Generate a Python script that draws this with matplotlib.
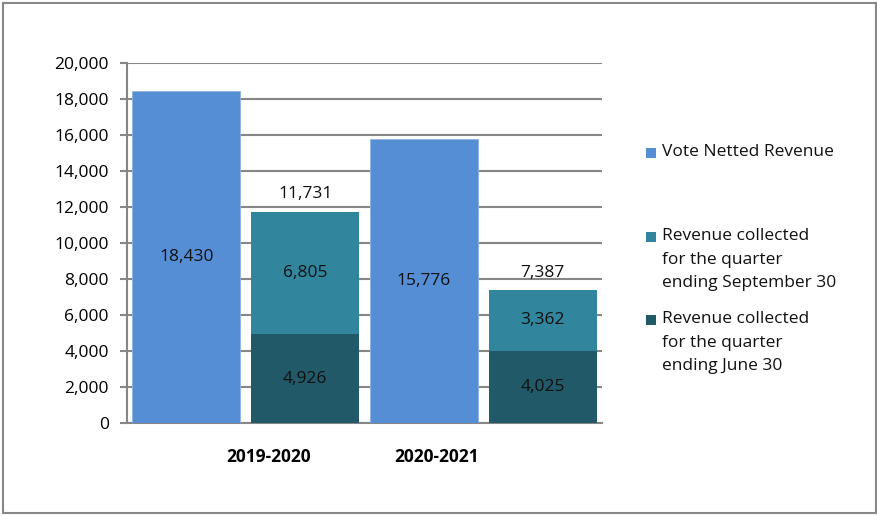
import matplotlib.pyplot as plt
from matplotlib.patches import Rectangle

years = ["2019-2020", "2020-2021"]
vote_netted = [18430, 15776]
june_quarter = [4926, 4025]
september_quarter = [6805, 3362]
totals = [11731, 7387]

series_labels = [
    "Vote Netted Revenue",
    "Revenue collected\nfor the quarter\nending September 30",
    "Revenue collected\nfor the quarter\nending June 30",
]
y_ticks = list(range(0, 20001, 2000))

BLUE = "#558ed5"
TEAL = "#31859c"
DARK = "#215968"
GRID = "#868686"
FS = 12.5

plt.rcParams["font.family"] = ["Open Sans", "DejaVu Sans"]

fig = plt.figure(figsize=(8.78, 5.16), dpi=100)
W, H = 878, 516
ax = fig.add_axes([127 / W, 1 - 423.3 / H, 475 / W, (423.3 - 62.7) / H])

width = 0.91
vote_x = [2 * i for i in range(len(years))]
stack_x = [2 * i + 1 for i in range(len(years))]

ax.bar(vote_x, vote_netted, width, color=BLUE, edgecolor="#8db3e2", linewidth=0.6, zorder=3)
ax.bar(stack_x, june_quarter, width, color=DARK, zorder=3)
ax.bar(stack_x, september_quarter, width, bottom=june_quarter, color=TEAL, zorder=3)

label_kw = dict(ha="center", va="center", fontsize=FS, color="#111111", zorder=4)
for x, v in zip(vote_x, vote_netted):
    ax.text(x, v / 2, f"{v:,}", **label_kw)
for x, j, s, t in zip(stack_x, june_quarter, september_quarter, totals):
    ax.text(x, j / 2, f"{j:,}", **label_kw)
    ax.text(x, j + s / 2, f"{s:,}", **label_kw)
    ax.annotate(f"{t:,}", (x, j + s), xytext=(0, 12.5), textcoords="offset points",
                ha="center", va="center", fontsize=FS, color="#111111")

# category labels sit offset from the group centres, as in the source
for x, year in zip([0.69, 2.11], years):
    ax.text(x, -1850, year, ha="center", va="center", fontsize=FS, fontweight="bold")

ax.set_xlim(-0.5, 3.5)
ax.set_ylim(0, 20000)
ax.set_yticks(y_ticks)
ax.set_yticklabels([f"{t:,}" for t in y_ticks], fontsize=FS)
ax.set_xticks([])
ax.yaxis.grid(True, color=GRID, linewidth=1.5, zorder=0)
ax.tick_params(axis="y", length=5, width=1.5, color=GRID, pad=8)
for side in ["top", "right"]:
    ax.spines[side].set_visible(False)
for side in ["left", "bottom"]:
    ax.spines[side].set_color(GRID)
    ax.spines[side].set_linewidth(1.5)

# legend drawn by hand to match the spacing
legend_rows = [153, 237, 320]
for y, color, text in zip(legend_rows, [BLUE, TEAL, DARK], series_labels):
    fig.patches.append(Rectangle((646 / W, 1 - (y + 5) / H), 10 / W, 10 / H,
                                 transform=fig.transFigure, facecolor=color, edgecolor="none"))
    fig.text(662 / W, 1 - (y - 9) / H, text, ha="left", va="top", fontsize=FS,
             linespacing=1.64, color="#111111")

fig.patches.append(Rectangle((3 / W, 3 / H), 873 / W, 510 / H, transform=fig.transFigure,
                             fill=False, edgecolor="#888888", linewidth=1.5))

fig.savefig("out.png", dpi=100)
